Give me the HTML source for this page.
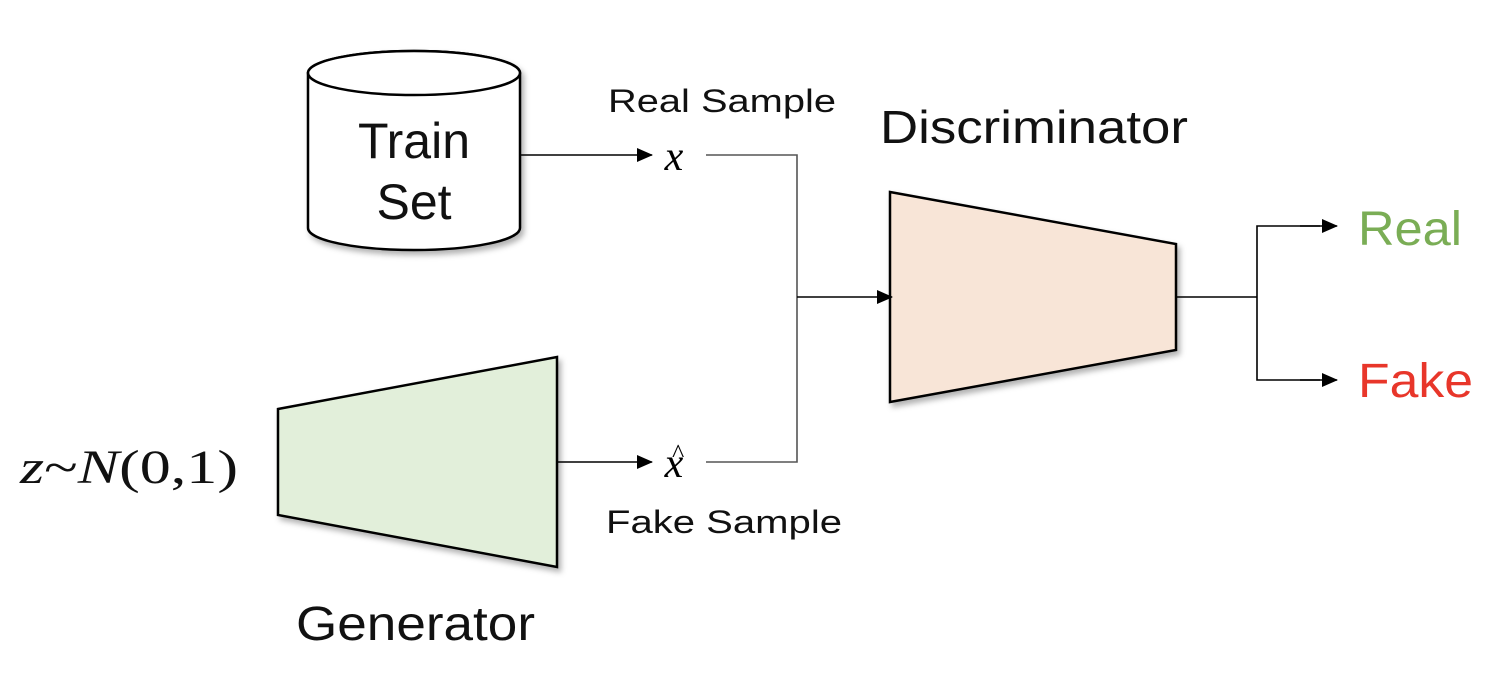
<!DOCTYPE html>
<html><head><meta charset="utf-8"><style>
html,body{margin:0;padding:0;background:#fff;}
svg{display:block;}
text{font-family:"Liberation Sans",sans-serif;}
.m{font-family:"Liberation Serif",serif;font-style:italic;}
</style></head><body>
<svg width="1502" height="674" viewBox="0 0 1502 674" xmlns="http://www.w3.org/2000/svg">
<defs>
<marker id="a" markerWidth="16" markerHeight="14" refX="15" refY="7" orient="auto" markerUnits="userSpaceOnUse" viewBox="0 0 16 14">
<path d="M0,0 L16,7 L0,14 z" fill="#000"/></marker>
<filter id="sh" x="-10%" y="-10%" width="130%" height="130%"><feDropShadow dx="3" dy="4" stdDeviation="3" flood-color="#000" flood-opacity="0.3"/></filter>
</defs>
<g filter="url(#sh)">
<path d="M308,73 L308,228 A106,22 0 0 0 520,228 L520,73 A106,22 0 0 0 308,73 Z" fill="#fff" stroke="#000" stroke-width="2.5"/>
</g>
<ellipse cx="414" cy="73" rx="106" ry="22" fill="#fff" stroke="#000" stroke-width="2.5"/>
<text x="414" y="158" font-size="50" text-anchor="middle" fill="#111">Train</text>
<text x="414" y="219" font-size="50" text-anchor="middle" fill="#111">Set</text>
<polygon points="278,409 557,357 557,567 278,515" fill="#e2efda" stroke="#000" stroke-width="2.5" filter="url(#sh)"/>
<polygon points="890,192 1176,244 1176,350 890,402" fill="#f8e5d7" stroke="#000" stroke-width="2.5" filter="url(#sh)"/>
<g stroke="#000" stroke-width="1.6" fill="none">
<line x1="520" y1="155" x2="652" y2="155" marker-end="url(#a)"/>
<line x1="557" y1="462" x2="652" y2="462" marker-end="url(#a)"/>
<polyline points="706,155 797,155 797,462 706,462" stroke="#555"/>
<line x1="797" y1="297" x2="892" y2="297" marker-end="url(#a)"/>
<line x1="1176" y1="297" x2="1257" y2="297"/>
<polyline points="1320,226 1257,226 1257,380 1320,380"/>
<line x1="1300" y1="226" x2="1337" y2="226" marker-end="url(#a)"/>
<line x1="1300" y1="380" x2="1337" y2="380" marker-end="url(#a)"/>
</g>
<text class="m" x="674" y="170" font-size="42" text-anchor="middle">x</text>
<text class="m" x="674" y="477" font-size="42" text-anchor="middle">x</text>
<text x="677" y="462" font-size="26" text-anchor="middle" class="m">^</text>
<text x="608" y="112" font-size="32" textLength="228" lengthAdjust="spacingAndGlyphs" fill="#111">Real Sample</text>
<text x="606" y="533" font-size="32" textLength="236" lengthAdjust="spacingAndGlyphs" fill="#111">Fake Sample</text>
<text x="880" y="143" font-size="46" textLength="308" lengthAdjust="spacingAndGlyphs" fill="#111">Discriminator</text>
<text x="296" y="640" font-size="48" textLength="239" lengthAdjust="spacingAndGlyphs" fill="#111">Generator</text>
<text x="1358" y="245" font-size="48" textLength="104" lengthAdjust="spacingAndGlyphs" fill="#7aad55">Real</text>
<text x="1358" y="397" font-size="48" textLength="115" lengthAdjust="spacingAndGlyphs" fill="#e8362a">Fake</text>
<text class="m" x="20" y="483" font-size="48" textLength="218" lengthAdjust="spacingAndGlyphs" fill="#111">z<tspan font-style="normal">~</tspan>N<tspan font-style="normal">(0,1)</tspan></text>
</svg>
</body></html>
